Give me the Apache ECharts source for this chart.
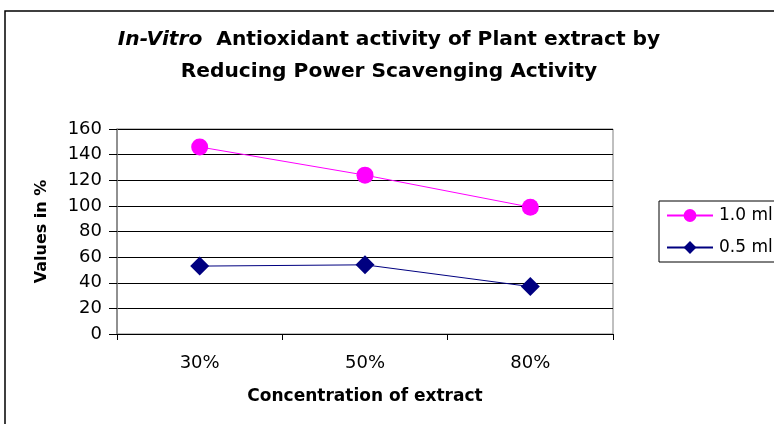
<!DOCTYPE html>
<html><head><meta charset="utf-8">
<script src="https://cdn.jsdelivr.net/npm/echarts@6/dist/echarts.min.js"></script>
<style>html,body{margin:0;padding:0;background:#fff}#c{width:774px;height:424px}</style>
</head><body><div id="c"></div>
<script>
const categories = ['30%', '50%', '80%'];
const seriesNames = ['1.0 ml', '0.5 ml'];
const values10 = [146, 124, 99];
const values05 = [53, 54, 37];
const yTicks = { min: 0, max: 160, interval: 20 };

const chart = echarts.init(document.getElementById('c'));
const font = '"DejaVu Sans", Arial, sans-serif';
chart.setOption({
  animation: false,
  backgroundColor: '#fff',
  graphic: [{
    type: 'rect', z: -1, silent: true,
    shape: { x: 5, y: 11, width: 820, height: 440 },
    style: { fill: 'none', stroke: '#000', lineWidth: 1.5 }
  }],
  title: {
    text: '{i|In-Vitro}  Antioxidant activity of Plant extract by\nReducing Power Scavenging Activity',
    left: 384, top: 19, textAlign: 'center',
    textStyle: {
      fontFamily: font, fontSize: 20.2, fontWeight: 'bold', color: '#000', lineHeight: 32,
      rich: { i: { fontFamily: font, fontSize: 20.2, fontWeight: 'bold', fontStyle: 'italic', color: '#000', lineHeight: 32 } }
    }
  },
  legend: {
    left: 659, top: 201, orient: 'vertical',
    data: seriesNames,
    itemWidth: 46, itemHeight: 16, itemGap: 15,
    padding: [6, 8, 6, 7],
    borderColor: '#000', borderWidth: 1,
    textStyle: { fontFamily: font, fontSize: 17, color: '#000', padding: [0, 0, 0, 1] }
  },
  grid: { left: 117, right: 161, top: 129, bottom: 90, show: true, borderColor: '#808080', borderWidth: 1 },
  xAxis: {
    type: 'category', data: categories, boundaryGap: true,
    name: 'Concentration of extract', nameLocation: 'middle', nameGap: 54,
    nameTextStyle: { fontFamily: font, fontSize: 17, fontWeight: 'bold', color: '#000' },
    axisLine: { lineStyle: { color: '#000', width: 1 } },
    axisTick: { show: true, length: 6, lineStyle: { color: '#000' } },
    axisLabel: { fontFamily: font, fontSize: 18, color: '#000', margin: 20 }
  },
  yAxis: {
    type: 'value', min: yTicks.min, max: yTicks.max, interval: yTicks.interval,
    name: 'Values in %', nameLocation: 'middle', nameGap: 67,
    nameTextStyle: { fontFamily: font, fontSize: 16, fontWeight: 'bold', color: '#000' },
    axisLine: { show: true, lineStyle: { color: '#808080', width: 1.5 } },
    axisTick: { show: true, length: 8, lineStyle: { color: '#000' } },
    axisLabel: { fontFamily: font, fontSize: 18, color: '#000', margin: 15 },
    splitLine: { show: true, lineStyle: { color: '#000', width: 1 } }
  },
  series: [{
    name: seriesNames[0], type: 'line', data: values10,
    symbol: 'circle', symbolSize: 17,
    lineStyle: { color: '#ff00ff', width: 1 },
    itemStyle: { color: '#ff00ff' }
  }, {
    name: seriesNames[1], type: 'line', data: values05,
    symbol: 'diamond', symbolSize: [19, 19],
    lineStyle: { color: '#000080', width: 1 },
    itemStyle: { color: '#000080' }
  }]
});
</script></body></html>
